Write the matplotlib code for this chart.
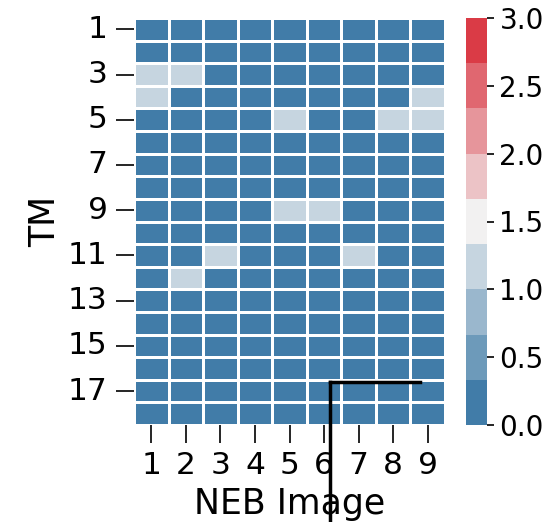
import numpy as np
import matplotlib
matplotlib.use("Agg")
import matplotlib.pyplot as plt
import seaborn as sns
from matplotlib.lines import Line2D
from matplotlib.colors import ListedColormap

sns.set_context("poster")
plt.rcParams['font.family'] = ['DejaVu Sans']

n_tm = 18
n_img = 9
tm_labels = list(range(1, n_tm + 1))
img_labels = list(range(1, n_img + 1))
cbar_ticks = [0.0, 0.5, 1.0, 1.5, 2.0, 2.5, 3.0]

# cells with value 1 (TM, NEB image), others 0
ones = [(3, 1), (3, 2), (4, 1), (4, 9), (5, 5), (5, 8), (5, 9),
        (9, 5), (9, 6), (11, 3), (11, 7), (12, 2)]
data = np.zeros((n_tm, n_img))
for r, c in ones:
    data[r - 1, c - 1] = 1

cmap = ListedColormap(sns.diverging_palette(240, 10, n=9))

fig = plt.figure(figsize=(5.44, 5.22), dpi=100)
ax = fig.add_axes([134/544, 1 - 425/522, 311/544, 407/522])
cax = fig.add_axes([466/544, 1 - 425/522, 21/544, 407/522])

sns.heatmap(data, ax=ax, cbar_ax=cax, cmap=cmap, vmin=0, vmax=3,
            linewidths=0.8, linecolor='white',
            xticklabels=img_labels, yticklabels=tm_labels)

ax.set_yticks(np.arange(0, n_tm, 2) + 0.5)
ax.set_yticklabels(tm_labels[::2], rotation=0, fontsize=22.5)
ax.set_xticks(np.arange(n_img) + 0.5)
ax.set_xticklabels(img_labels, rotation=0, fontsize=22.5)
ax.tick_params(length=13, width=1.2, pad=6)
ax.set_xlabel("NEB Image", fontsize=25, labelpad=5)
ax.set_ylabel("TM", fontsize=25, labelpad=4)

cax.set_yticks(cbar_ticks)
cax.set_yticklabels([f"{t:.1f}" for t in cbar_ticks], fontsize=20)
cax.tick_params(length=5, width=1.2, pad=4)

fig.add_artist(Line2D([330/544, 420/544], [1 - 382/522, 1 - 382/522],
                      color='black', lw=2.5, transform=fig.transFigure))
fig.add_artist(Line2D([330/544, 330/544], [1 - 382/522, 0],
                      color='black', lw=2.5, transform=fig.transFigure))

fig.savefig("out.png", dpi=100)
